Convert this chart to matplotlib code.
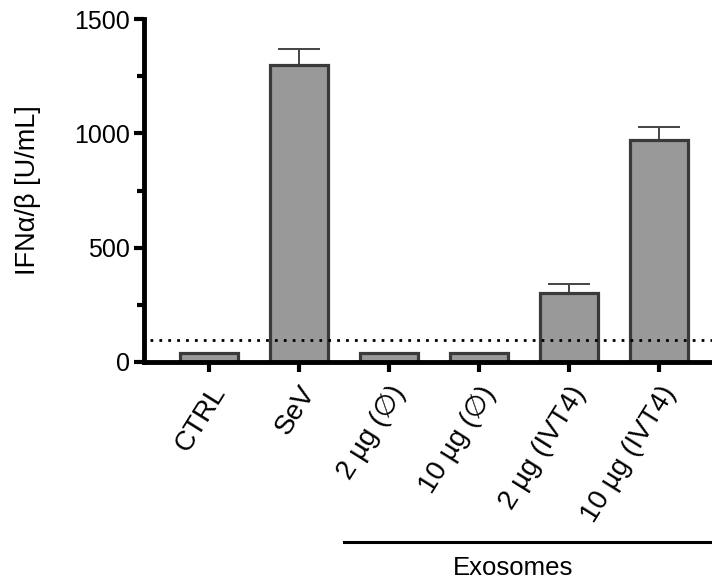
import matplotlib
matplotlib.use("Agg")
import matplotlib.pyplot as plt
from matplotlib.ticker import MultipleLocator
import matplotlib.transforms as mtransforms

plt.rcParams['font.family'] = ['Liberation Sans', 'DejaVu Sans']

# data
groups = ['CTRL', 'SeV', '2 µg (∅)', '10 µg (∅)', '2 µg (IVT4)', '10 µg (IVT4)']
ifn = [40, 1300, 40, 40, 300, 970]
sem = [0, 68, 0, 0, 42, 58]
detect_limit = 97
exo_start = 1.5

fig = plt.figure(figsize=(7.12, 5.81), dpi=100)
ax = fig.add_axes([0.2022, 0.377, 0.7978, 0.590])

x = list(range(len(groups)))
ax.bar(x, ifn, width=0.64, color='#999999', edgecolor='#3a3a3a', linewidth=2.3, zorder=2)

# upper error bars only
for xi, v, e in zip(x, ifn, sem):
    if e > 0:
        ax.errorbar(xi, v, yerr=[[0], [e]], fmt='none', ecolor='#444444',
                    elinewidth=1.4, capsize=15, capthick=1.4, zorder=1)

ax.axhline(detect_limit, xmin=0.01, color='black', linestyle=(0, (1, 2.2)),
           linewidth=2, zorder=3)

ax.set_xlim(-0.72, 5.59)
ax.set_ylim(0, 1500)
ax.yaxis.set_major_locator(MultipleLocator(500))
ax.yaxis.set_minor_locator(MultipleLocator(250))

for s in ['top', 'right']:
    ax.spines[s].set_visible(False)
for s in ['left', 'bottom']:
    ax.spines[s].set_linewidth(3.5)

ax.tick_params(axis='y', which='major', length=7, width=3, labelsize=18, pad=3)
ax.tick_params(axis='y', which='minor', length=5, width=3)
ax.tick_params(axis='x', length=7, width=3, labelsize=20, pad=7)

ax.set_xticks(x)
ax.set_xticklabels(groups, rotation=58, ha='right', rotation_mode='anchor')
ax.set_ylabel('IFNα/β [U/mL]', fontsize=19.5, labelpad=24)

# exosomes bracket under the last four groups
trans = mtransforms.blended_transform_factory(ax.transData, ax.transAxes)
ax.plot([exo_start, 5.59], [-0.525, -0.525], color='black', linewidth=2.2,
        transform=trans, clip_on=False)
ax.text(3.38, -0.60, 'Exosomes', transform=trans, ha='center', va='center', fontsize=18.5)

fig.savefig('out.png', dpi=100)
